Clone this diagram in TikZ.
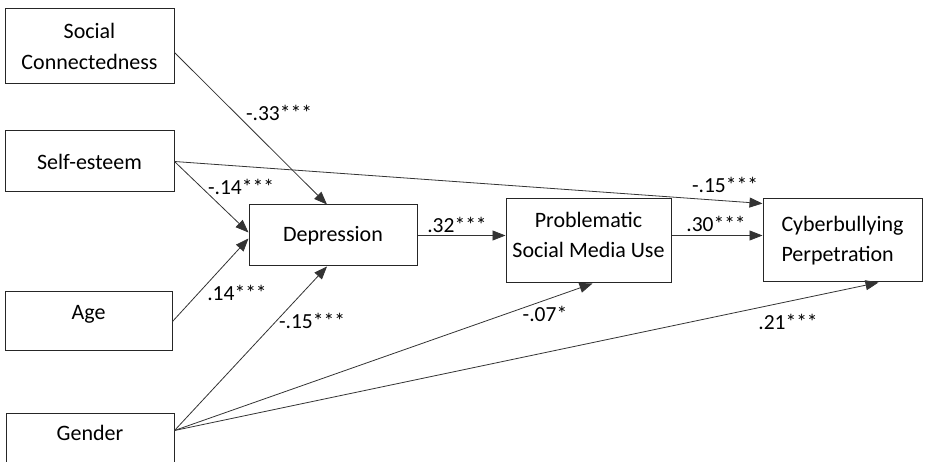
\documentclass[tikz,border=0pt]{standalone}
\usepackage{fontspec}
\setmainfont{Carlito}
\usetikzlibrary{arrows.meta}
\tikzset{
    varbox/.style={draw=black!85, line width=1pt, inner sep=0pt,
        font=\fontsize{22}{30.5}\selectfont, align=center},
    path/.style={draw=black!80, line width=0.8pt,
        -{Triangle[length=13pt, width=10pt]}},
    coef/.style={font=\fontsize{21.5}{24}\selectfont, inner sep=0pt}
}

\begin{document}
\begin{tikzpicture}[x=1pt, y=-1pt]
        \useasboundingbox (0,0) rectangle (927,462);
        % variables
        \node[varbox, minimum width=169pt, minimum height=75pt] (social) at (89.5,46.5) {Social\\Connectedness};
        \node[varbox, minimum width=169pt, minimum height=61pt] (esteem) at (89.5,161.5) {Self-esteem};
        \node[varbox, minimum width=167pt, minimum height=59pt, text depth=18pt] (age) at (88.5,321.5) {Age};
        \node[varbox, minimum width=168pt, minimum height=54pt, text depth=16pt] (gender) at (90,441) {Gender};
        \node[varbox, minimum width=168pt, minimum height=61pt] (depr) at (333,235.5) {Depression};
        \node[varbox, minimum width=165pt, minimum height=84pt, text depth=12pt] (psmu) at (588.5,241) {Problematic\\Social Media Use};
        \node[varbox, minimum width=159pt, minimum height=83pt, align=left] (cyber) at (842.5,240.5) {Cyberbullying\\Perpetration};
        % paths
        \draw[path] ([yshift=-6pt]social.east) -- ([xshift=-6pt]depr.north);
        \draw[path] (esteem.east) -- ([yshift=3pt]depr.west);
        \draw[path] (age.east) -- ([yshift=-3pt]depr.west);
        \draw[path] (esteem.east) -- ([yshift=-5pt]cyber.north west);
        \draw[path] ([yshift=-17pt]gender.north east) -- ([xshift=-6pt]depr.south);
        \draw[path] ([yshift=-17pt]gender.north east) -- ([xshift=4pt]psmu.south);
        \draw[path] ([yshift=-17pt]gender.north east) -- ([xshift=36pt]cyber.south);
        \draw[path] (depr.east) -- (depr.east -| psmu.west);
        \draw[path] (psmu.east |- depr.east) -- (cyber.west |- depr.east);
        % coefficients
        \node[coef] (c1) at (279,113) {-.33***};
        \node[coef] (c2) at (241,187) {-.14***};
        \node[coef] (c3) at (237,293) {.14***};
        \node[coef] (c4) at (312,321) {-.15***};
        \node[coef] (c5) at (457,225) {.32***};
        \node[coef] (c6) at (725,185) {-.15***};
        \node[coef] (c7) at (716,224) {.30***};
        \node[coef] (c8) at (545,314) {-.07*};
        \node[coef] (c9) at (788,322) {.21***};
    \end{tikzpicture}
\end{document}
